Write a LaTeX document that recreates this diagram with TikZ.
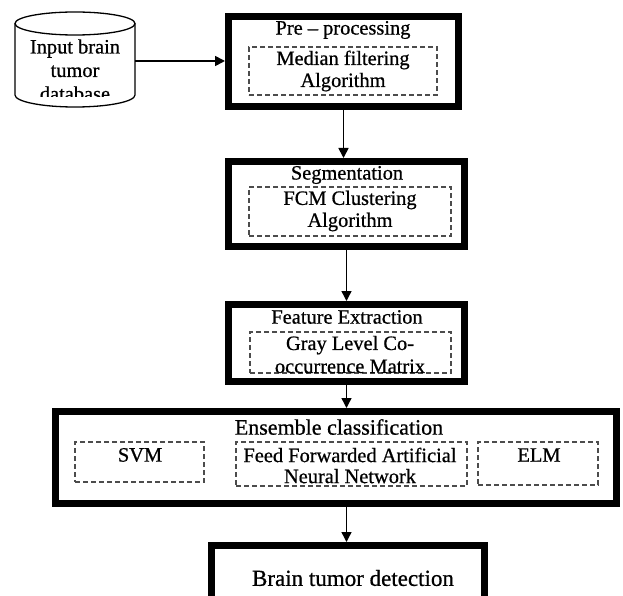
\documentclass[tikz,border=0pt]{standalone}
\usepackage{fontspec}
\setmainfont{Liberation Serif}[FakeBold=0.7]
\usetikzlibrary{arrows.meta}
\begin{document}
\begin{tikzpicture}[x=1pt,y=-1pt,
  mainbox/.style={draw, line width=7pt, inner sep=0pt},
  dbox/.style={draw=black!70, line width=1.2pt, dash pattern=on 5pt off 3pt, inner sep=0pt},
  lbl/.style={font=\fontsize{20.4}{22}\selectfont, inner sep=0pt, align=center},
  arr/.style={line width=1.7pt, -{Triangle[length=10pt,width=10pt]}},
  cyl/.style={line width=1.3pt}
]
\useasboundingbox (0,0) rectangle (623,596);
\clip (0,0) rectangle (623,596);

% database cylinder
\draw[cyl] (15,23.5) -- (15,95) arc[start angle=180, end angle=360, x radius=60pt, y radius=12pt] -- (135,23.5);
\draw[cyl] (75,23.5) ellipse [x radius=60pt, y radius=11.5pt];
\begin{scope}
  \clip (15,12) rectangle (135,97);
  \node[lbl, font=\fontsize{20.4}{23.5}\selectfont] (db) at (75,70) {Input brain\\tumor\\database};
\end{scope}
\coordinate (dbr) at (135,61);

% pre-processing
\node[mainbox, minimum width=230pt, minimum height=90pt] (pre) at (343.5,61.5) {};
\node[lbl] (pret) at (343,30) {Pre – processing};
\node[dbox, minimum width=188pt, minimum height=48pt] (pred) at (343,71) {};
\node[lbl] (predt) at (343,71) {Median filtering\\Algorithm};

% segmentation
\node[mainbox, minimum width=236pt, minimum height=85pt] (seg) at (346.5,204) {};
\node[lbl] (segt) at (347,175) {Segmentation};
\node[dbox, minimum width=202pt, minimum height=49pt] (segd) at (350,211.5) {};
\node[lbl] (segdt) at (350,211) {FCM Clustering\\Algorithm};

% feature extraction
\node[mainbox, minimum width=236pt, minimum height=77pt] (feat) at (346.5,343) {};
\node[lbl] (featt) at (347,317) {Feature Extraction};
\node[dbox, minimum width=201pt, minimum height=41pt] (featd) at (350.5,352.5) {};
\node[lbl, font=\fontsize{20.4}{23}\selectfont] (featdt) at (350,354.5) {Gray Level Co-\\occurrence Matrix};

% ensemble classification
\node[mainbox, minimum width=561pt, minimum height=92pt] (ens) at (336,457.5) {};
\node[lbl, font=\fontsize{22}{24}\selectfont] (enst) at (339,427) {Ensemble classification};
\node[dbox, minimum width=129pt, minimum height=40pt] (svm) at (139.5,462) {};
\node[lbl] (svmt) at (140,455) {SVM};
\node[dbox, minimum width=231pt, minimum height=44pt] (ann) at (351.5,464) {};
\node[lbl, font=\fontsize{20.4}{21}\selectfont] (annt) at (350,465.5) {Feed Forwarded Artificial\\Neural Network};
\node[dbox, minimum width=120pt, minimum height=43pt] (elm) at (538,463.5) {};
\node[lbl] (elmt) at (539,455) {ELM};

% brain tumor detection
\node[mainbox, minimum width=273pt, minimum height=60pt] (brain) at (348,575.5) {};
\node[lbl, font=\fontsize{23}{25}\selectfont] (braint) at (353,578) {Brain tumor detection};

% connectors
\draw[arr] (dbr) -- (dbr -| pre.west);
\draw[arr] (pre.south) -- (pre.south |- seg.north);
\draw[arr, line width=1.4pt] (seg.south) -- (feat.north);
\draw[arr, line width=1.4pt] (feat.south) -- (feat.south |- ens.north);
\draw[arr, line width=1.4pt] (feat.south |- ens.south) -- (feat.south |- brain.north);
\end{tikzpicture}
\end{document}
